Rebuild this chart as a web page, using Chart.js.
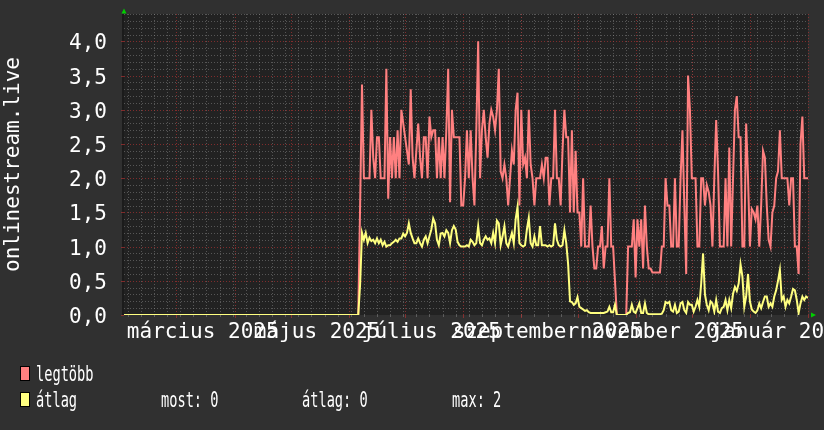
<!DOCTYPE html>
<html>
<head>
<meta charset="utf-8">
<script src="https://cdn.jsdelivr.net/npm/chart.js@4.4.1/dist/chart.umd.min.js"></script>
<style>
    html, body { margin: 0; padding: 0; background: #303030; }
    #wrap { width: 824px; height: 430px; }
</style>
</head>
<body>
<div id="wrap"><canvas id="streamChart" width="824" height="430"></canvas></div>
<script>
// days are counted from 2025-02-01, one reading per day
const firstDay = 125; // before this the stream had nobody online

const legtobb = [
    0, 1.6, 3.37, 2.0, 2.0, 2.0, 2.0, 3.0, 2.3, 2.0,
    2.6, 2.6, 2.0, 2.0, 2.0, 3.6, 1.7, 2.6, 2.0, 2.6,
    2.0, 2.7, 2.0, 3.0, 2.8, 2.6, 2.4, 2.2, 3.3, 2.3,
    2.0, 2.4, 2.8, 2.3, 2.0, 2.6, 2.6, 2.0, 2.9, 2.6,
    2.7, 2.7, 2.0, 2.6, 2.0, 2.6, 2.0, 2.7, 3.6, 1.65,
    3.0, 2.6, 2.6, 2.6, 2.6, 1.6, 1.6, 2.0, 2.7, 2.0,
    2.7, 2.0, 1.6, 2.7, 4.0, 2.0, 2.7, 3.0, 2.6, 2.3,
    2.8, 3.0, 2.9, 2.7, 3.0, 3.6, 2.1, 2.0, 2.2, 2.0,
    1.6, 2.0, 2.4, 2.2, 3.0, 3.25, 1.6, 3.0, 2.2, 2.3,
    2.0, 3.0, 2.2, 2.0, 1.6, 2.0, 2.0, 2.0, 2.2, 2.0,
    2.3, 2.3, 1.6, 2.0, 2.0, 3.0, 2.0, 2.0, 1.6, 2.4,
    3.0, 2.6, 2.6, 1.5, 2.7, 1.5, 2.4, 1.5, 1.5, 1.0,
    2.0, 1.0, 1.0, 1.0, 1.6, 1.0, 0.68, 0.68, 1.0, 1.0,
    1.3, 0.68, 1.0, 1.0, 2.0, 1.0, 1.0, 0.5, 0, 0,
    0, 0, 0, 0, 1.0, 1.0, 1.0, 1.4, 0.55, 1.4,
    1.0, 1.4, 0.68, 1.6, 1.0, 0.68, 0.68, 0.62, 0.62, 0.62,
    0.62, 0.62, 1.0, 1.0, 2.0, 1.6, 1.6, 1.0, 1.0, 2.0,
    1.0, 1.0, 2.0, 2.7, 1.6, 0.6, 3.5, 3.0, 2.0, 2.0,
    2.0, 1.0, 1.0, 2.0, 2.0, 1.6, 1.9, 1.8, 1.6, 1.0,
    2.0, 2.85, 2.1, 1.0, 1.0, 1.0, 2.0, 1.0, 2.45, 1.0,
    2.0, 3.0, 3.2, 2.6, 2.6, 1.0, 1.0, 2.8, 2.0, 1.0,
    1.55, 1.5, 1.4, 1.6, 1.0, 1.6, 2.4, 2.3, 1.6, 1.1,
    1.0, 1.5, 1.6, 2.0, 2.1, 2.7, 2.0, 2.0, 2.0, 2.0,
    1.6, 2.0, 2.0, 1.0, 1.0, 0.6, 2.5, 2.9, 2.0, 2.0,
    2.0
];

const atlag = [
    0, 0.45, 1.2, 1.1, 1.2, 1.05, 1.13, 1.08, 1.1, 1.05,
    1.12, 1.05, 1.1, 1.02, 1.07, 1.0, 1.02, 1.02, 1.05, 1.07,
    1.1, 1.07, 1.12, 1.12, 1.19, 1.15, 1.2, 1.34, 1.2, 1.12,
    1.05, 1.05, 1.12, 1.05, 1.0, 1.1, 1.15, 1.05, 1.15, 1.25,
    1.41, 1.34, 1.1, 1.02, 1.19, 1.2, 1.15, 1.24, 1.2, 1.05,
    1.24, 1.3, 1.25, 1.07, 1.02, 1.0, 1.0, 1.0, 1.02, 1.0,
    1.1, 1.07, 1.02, 1.05, 1.3, 1.05, 1.02, 1.1, 1.15, 1.1,
    1.12, 1.05, 1.2, 1.05, 1.38, 1.34, 1.02, 1.15, 1.3, 1.05,
    1.0, 1.1, 1.2, 1.05, 1.4, 1.58, 1.05, 1.02, 1.0, 1.02,
    1.25, 1.42, 1.05, 1.0, 1.15, 1.02, 1.02, 1.3, 1.02, 1.02,
    1.02, 1.0, 1.02, 1.0, 1.02, 1.34, 1.1, 1.02, 1.0, 1.02,
    1.24, 1.05, 0.74, 0.2, 0.19, 0.15, 0.17, 0.26, 0.12, 0.1,
    0.08, 0.06, 0.07, 0.04, 0.03, 0.03, 0.03, 0.03, 0.03, 0.03,
    0.03, 0.03, 0.04, 0.05, 0.12, 0.04, 0.04, 0.15, 0, 0,
    0, 0, 0, 0, 0.03, 0.04, 0.15, 0.05, 0.03, 0.1,
    0.17, 0.03, 0.03, 0.17, 0.03, 0.01, 0.01, 0.01, 0.01, 0.01,
    0.01, 0.01, 0.02, 0.07, 0.19, 0.17, 0.19, 0.07, 0.05, 0.15,
    0.03, 0.05, 0.17, 0.19, 0.07, 0.03, 0.19, 0.15, 0.15, 0.05,
    0.12, 0.22, 0.12, 0.46, 0.9, 0.3, 0.15, 0.07, 0.2, 0.17,
    0.05, 0.22, 0.05, 0.03, 0.1, 0.12, 0.22, 0.07, 0.22, 0.1,
    0.31, 0.41, 0.35, 0.46, 0.74, 0.56, 0.12, 0.27, 0.6, 0.2,
    0.08, 0.05, 0.03, 0.07, 0.17, 0.1, 0.19, 0.27, 0.27, 0.12,
    0.17, 0.12, 0.27, 0.36, 0.5, 0.66, 0.22, 0.27, 0.12, 0.22,
    0.17, 0.27, 0.38, 0.36, 0.22, 0.03, 0.17, 0.27, 0.22, 0.27,
    0.25
];

// axis stuff
const monthStartDays = [28, 59, 89, 120, 150, 181, 212, 242, 273, 303, 334, 365];
const monthLabels = ['március 2025', 'május 2025', 'július 2025', 'szeptember 2025', 'november 2025', 'január 2026'];
const monthLabelDays = [42, 103, 164, 226, 287, 350];
const yTicks = [0, 0.5, 1.0, 1.5, 2.0, 2.5, 3.0, 3.5, 4.0];
const firstMonday = 2;

const legendItems = ['legtöbb', 'átlag'];
const legendColors = ['#ff8080', '#ffff80'];
const statLabels = ['most: 0', 'átlag: 0', 'max: 2'];

const toPoints = vals => [{ x: 0, y: 0 }].concat(vals.map((v, i) => ({ x: firstDay + i, y: v })));

const FONT = '21px "DejaVu Sans Mono", monospace';

const rrdFrame = {
    id: 'rrdFrame',
    beforeDraw(chart) {
        const { ctx, chartArea: a, scales: { x, y } } = chart;
        ctx.save();
        ctx.fillStyle = '#303030';
        ctx.fillRect(0, 0, chart.width, chart.height);
        ctx.fillStyle = '#222222';
        ctx.fillRect(a.left, a.top, a.right - a.left, a.bottom - a.top);
        ctx.fillStyle = '#1b1b1b';
        ctx.fillRect(a.left - 2, a.top, 2, a.bottom - a.top);

        ctx.lineWidth = 1;
        ctx.setLineDash([1, 2]);

        // minor grid: every 0.1 and every week
        ctx.strokeStyle = 'rgba(150, 150, 150, 0.45)';
        ctx.beginPath();
        for (let i = 1; i <= 44; i++) {
            if (i % 5 === 0) continue;
            const py = Math.round(y.getPixelForValue(i / 10)) + 0.5;
            ctx.moveTo(a.left, py);
            ctx.lineTo(a.right, py);
        }
        for (let d = firstMonday; d < 365; d += 7) {
            const px = Math.round(x.getPixelForValue(d)) + 0.5;
            ctx.moveTo(px, a.top);
            ctx.lineTo(px, a.bottom);
        }
        ctx.stroke();

        // major grid: every 0.5 and every month
        ctx.strokeStyle = 'rgba(180, 50, 50, 0.65)';
        ctx.beginPath();
        for (let i = 1; i <= 8; i++) {
            const py = Math.round(y.getPixelForValue(i / 2)) + 0.5;
            ctx.moveTo(a.left, py);
            ctx.lineTo(a.right, py);
        }
        monthStartDays.forEach(d => {
            const px = Math.round(x.getPixelForValue(d)) + 0.5;
            ctx.moveTo(px, a.top);
            ctx.lineTo(px, a.bottom);
        });
        ctx.stroke();

        // little ticks under the x axis
        ctx.setLineDash([]);
        ctx.strokeStyle = 'rgba(140, 140, 140, 0.5)';
        ctx.beginPath();
        for (let d = firstMonday; d < 365; d += 7) {
            const px = Math.round(x.getPixelForValue(d)) + 0.5;
            ctx.moveTo(px, a.bottom);
            ctx.lineTo(px, a.bottom + 2);
        }
        ctx.stroke();
        ctx.strokeStyle = 'rgba(170, 50, 50, 0.7)';
        ctx.beginPath();
        monthStartDays.forEach(d => {
            const px = Math.round(x.getPixelForValue(d)) + 0.5;
            ctx.moveTo(px, a.bottom);
            ctx.lineTo(px, a.bottom + 3);
        });
        yTicks.forEach(v => {
            const py = Math.round(y.getPixelForValue(v)) + 0.5;
            ctx.moveTo(a.left - 3, py);
            ctx.lineTo(a.left, py);
        });
        ctx.stroke();
        ctx.restore();
    },
    afterDraw(chart) {
        const { ctx, chartArea: a, scales: { x, y } } = chart;
        ctx.save();
        ctx.fillStyle = '#ffffff';
        ctx.font = FONT;

        // y tick labels, hungarian decimal comma
        ctx.textAlign = 'right';
        ctx.textBaseline = 'alphabetic';
        yTicks.forEach(v => {
            ctx.fillText(v.toFixed(1).replace('.', ','), 107, y.getPixelForValue(v) + 8);
        });

        // month labels (they overlap, same as the original)
        ctx.textAlign = 'center';
        monthLabels.forEach((lbl, i) => {
            ctx.fillText(lbl, x.getPixelForValue(monthLabelDays[i]), 338);
        });

        // vertical title
        ctx.save();
        ctx.translate(18.5, (a.top + a.bottom) / 2);
        ctx.rotate(-Math.PI / 2);
        ctx.fillText('onlinestream.live', 0, 0);
        ctx.restore();

        // green axis arrows
        ctx.fillStyle = '#00d000';
        ctx.beginPath();
        ctx.moveTo(a.left - 2.5, a.top - 0.5);
        ctx.lineTo(a.left + 2.5, a.top - 0.5);
        ctx.lineTo(a.left, a.top - 5.5);
        ctx.closePath();
        ctx.fill();
        ctx.beginPath();
        ctx.moveTo(a.right + 3, a.bottom - 2.5);
        ctx.lineTo(a.right + 3, a.bottom + 2.5);
        ctx.lineTo(a.right + 8, a.bottom);
        ctx.closePath();
        ctx.fill();

        // legend, text is narrow in the original
        const rows = [381, 407];
        legendItems.forEach((name, i) => {
            ctx.fillStyle = legendColors[i];
            ctx.fillRect(20, rows[i] - 15, 10, 15);
            ctx.strokeStyle = '#000000';
            ctx.lineWidth = 1;
            ctx.strokeRect(20.5, rows[i] - 14.5, 9, 14);
        });
        const narrowText = (txt, tx, ty) => {
            ctx.save();
            ctx.translate(tx, ty);
            ctx.scale(0.62, 1);
            ctx.fillText(txt, 0, 0);
            ctx.restore();
        };
        ctx.font = '22px "DejaVu Sans Mono", monospace';
        ctx.fillStyle = '#ffffff';
        ctx.textAlign = 'left';
        narrowText(legendItems[0], 36, rows[0]);
        narrowText(legendItems[1], 36, rows[1]);
        narrowText(statLabels[0], 161, rows[1]);
        narrowText(statLabels[1], 302, rows[1]);
        narrowText(statLabels[2], 452, rows[1]);
        ctx.restore();
    }
};

const ctx = document.getElementById('streamChart').getContext('2d');
new Chart(ctx, {
    type: 'line',
    data: {
        datasets: [{
            label: legendItems[0],
            data: toPoints(legtobb),
            borderColor: legendColors[0],
            borderWidth: 2,
            pointRadius: 0,
            tension: 0,
            fill: false,
            clip: 0,
            order: 1
        }, {
            label: legendItems[1],
            data: toPoints(atlag),
            borderColor: legendColors[1],
            borderWidth: 2,
            pointRadius: 0,
            tension: 0,
            fill: false,
            clip: 0,
            order: 0 // drawn on top
        }]
    },
    options: {
        responsive: false,
        animation: false,
        devicePixelRatio: 1,
        layout: {
            padding: { left: 124, top: 14, right: 16, bottom: 115 }
        },
        scales: {
            x: { type: 'linear', min: 0, max: 365, display: false },
            y: { min: 0, max: 4.4, display: false }
        },
        plugins: {
            legend: { display: false },
            tooltip: { enabled: false }
        }
    },
    plugins: [rrdFrame]
});
</script>
</body>
</html>
